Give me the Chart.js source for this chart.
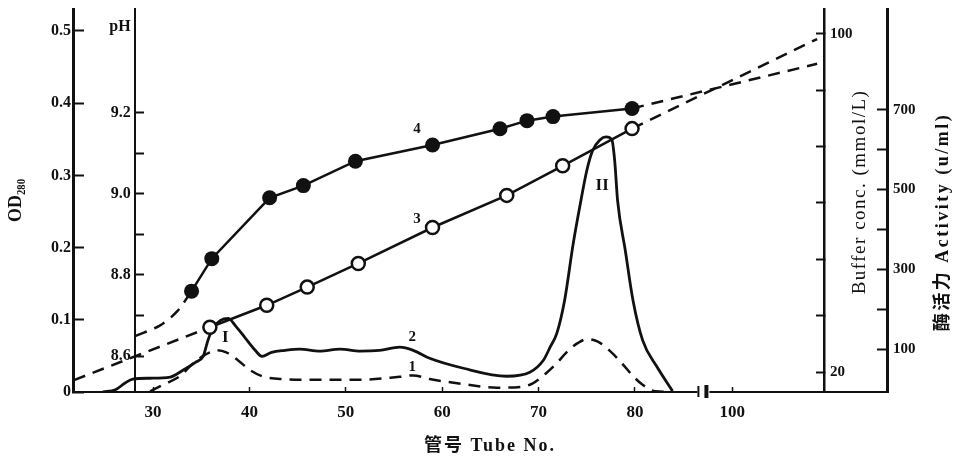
<!DOCTYPE html>
<html>
<head>
<meta charset="utf-8">
<script src="https://cdn.jsdelivr.net/npm/chart.js@4.4.1/dist/chart.umd.min.js"></script>
<style>
  html, body { margin: 0; padding: 0; background: #fff; }
  .chart-box { width: 959px; height: 458px; position: relative; }
</style>
</head>
<body>
<div class="chart-box"><canvas id="elutionChart"></canvas></div>
<script>
/* ---------------------------------- Data ---------------------------------- */
// curve 4 : pH (filled circles)
const phTubes = [34, 36.1, 42.1, 45.6, 51, 59, 66, 68.8, 71.5, 79.7];
const phValues = [8.76, 8.84, 8.99, 9.02, 9.08, 9.12, 9.16, 9.18, 9.19, 9.21];
const phLeadTubes = [28.2, 30.7, 32.5, 34];
const phLeadValues = [8.65, 8.675, 8.71, 8.76];
const phTailTubes = [79.7, 137];
const phTailValues = [9.21, 9.32];

// curve 3 : buffer conc. (open circles)
const bufTubes = [35.9, 41.8, 46, 51.3, 59, 66.7, 72.5, 79.7];
const bufValues = [30.6, 35.8, 40.1, 45.7, 54.2, 61.8, 68.8, 77.6];
const bufLeadTubes = [21.8, 35.9];
const bufLeadValues = [18.1, 30.6];
const bufTailTubes = [79.7, 137];
const bufTailValues = [77.6, 98.8];

// curve 1 : OD280 (dashed)
const odTubes = [29.7, 31.2, 32.8, 34.1, 35.2, 35.9, 36.6, 37.6, 38.8, 40.1, 41.3, 43.2, 47.3, 51.5, 55.6, 57,
  58.7, 62.2, 65.7, 68.1, 69.4, 70.7, 71.9, 72.9, 74.1, 75, 76.1, 77.4, 78.7, 79.8, 80.8, 82.1, 83.9];
const odValues = [0.001, 0.011, 0.022, 0.039, 0.05, 0.055, 0.058, 0.055, 0.044, 0.03, 0.022, 0.018, 0.017, 0.017, 0.021, 0.023,
  0.018, 0.011, 0.006, 0.007, 0.012, 0.025, 0.04, 0.055, 0.068, 0.073, 0.07, 0.057, 0.039, 0.022, 0.01, 0.001, 0];

// curve 2 : activity (solid)
const actTubes = [24.8, 26.1, 27.1, 27.9, 29.7, 31.8, 33.1, 34.4, 35.2, 35.7, 36.2, 37, 37.8, 38.6, 39.5, 40.6, 41.3,
  42.3, 43.7, 45.2, 47.3, 49.4, 51.5, 53.5, 55.6, 57, 58.7, 62.2, 66.7, 69.1, 70.5, 71.2, 71.9, 72.7, 73.6, 74.3,
  75, 75.6, 76.4, 77, 77.6, 77.9, 78.2, 79, 79.8, 80.8, 82.3, 83.9];
const actValues = [-7, -2, 15, 25, 27, 30, 47, 67, 82, 122, 152, 172, 177, 157, 130, 97, 82,
  92, 97, 100, 95, 100, 95, 97, 105, 97, 77, 52, 32, 42, 72, 105, 140, 222, 365, 460,
  547, 597, 625, 632, 625, 572, 472, 347, 222, 122, 55, -5];

// axis ticks
const xTicks = [30, 40, 50, 60, 70, 80, 100];
const odTicks = [0, 0.1, 0.2, 0.3, 0.4, 0.5];
const phTicks = [8.6, 8.7, 8.8, 8.9, 9.0, 9.1, 9.2];
const bufTicks = [20, 33.33, 46.67, 60, 73.33, 86.67, 100];
const actTicks = [100, 200, 300, 400, 500, 600, 700];

// curve labels
const labelTexts = ["4", "3", "2", "1", "I", "II"];
const labelTubes = [57.4, 57.4, 56.9, 56.9, 37.5, 76.6];
const labelValues = [9.16, 56.3, 130, 0.035, 0.075, 510];
const labelAxes = ["yPH", "yBuf", "yAct", "yOD", "yOD", "yAct"];

/* ------------------------------ Axis break ------------------------------- */
const xBreak = 87;
const xBreakScale = 0.238;

const toAxis = (t) => (t <= xBreak ? t : xBreak + (t - xBreak) * xBreakScale);
const fromAxis = (v) => (v <= xBreak ? v : xBreak + (v - xBreak) / xBreakScale);

const pts = (xs, ys) => xs.map((t, i) => ({ x: toAxis(t), y: ys[i] }));

/* -------------------------------- Styling --------------------------------- */
const ink = "#111";
const serif = "'Liberation Serif', 'Noto Sans CJK SC', serif";
const tickFont = { family: serif, size: 16, weight: "bold" };
const dash = [12, 8];

// fixed box sizes, and no extra padding so the plot area lands where the scan has it
const fitBox = (w, h) => (scale) => {
  if (w !== null) scale.width = w;
  if (h !== null) scale.height = h;
  scale.paddingTop = 0;
  scale.paddingBottom = 0;
  scale.paddingLeft = 0;
  scale.paddingRight = 0;
};
const setTicks = (list) => (scale) => { scale.ticks = list.map((v) => ({ value: v })); };

const lineSet = (data, axis, extra) =>
  Object.assign(
    {
      data: data,
      yAxisID: axis,
      borderColor: ink,
      borderWidth: 2.5,
      pointRadius: 0,
      fill: false,
      tension: 0,
    },
    extra
  );

/* ------------------------------ Annotations ------------------------------ */
const annotate = {
  id: "annotate",
  afterDraw(chart) {
    const { ctx, chartArea, scales } = chart;
    ctx.save();
    ctx.fillStyle = ink;
    ctx.strokeStyle = ink;

    // base line running under the two right-hand axes
    ctx.lineWidth = 2;
    ctx.beginPath();
    ctx.moveTo(chartArea.right, chartArea.bottom);
    ctx.lineTo(scales.yAct.left, chartArea.bottom);
    ctx.stroke();

    // axis break mark
    const bx = scales.x.getPixelForValue(xBreak);
    ctx.fillStyle = "#fff";
    ctx.fillRect(bx - 5, chartArea.bottom - 3, 12, 6);
    ctx.fillStyle = ink;
    ctx.fillRect(bx - 5, chartArea.bottom - 6, 2, 11);
    ctx.fillRect(bx + 2, chartArea.bottom - 7, 4, 13);

    // curve labels
    ctx.textAlign = "center";
    ctx.textBaseline = "middle";
    labelTexts.forEach((txt, i) => {
      const px = scales.x.getPixelForValue(toAxis(labelTubes[i]));
      const py = scales[labelAxes[i]].getPixelForValue(labelValues[i]);
      ctx.font = `bold ${txt.startsWith("I") ? 17 : 15}px ${serif}`;
      ctx.fillText(txt, px, py);
    });

    // axis titles
    ctx.letterSpacing = "2px";
    ctx.font = `bold 18px ${serif}`;
    ctx.fillText("管号 Tube No.", 490, 446);

    const vertical = (txt, x, y, font, spacing) => {
      ctx.save();
      ctx.translate(x, y);
      ctx.rotate(-Math.PI / 2);
      ctx.font = font;
      ctx.letterSpacing = spacing;
      ctx.fillText(txt, 0, 0);
      ctx.restore();
    };
    vertical("Buffer conc. (mmol/L)", 860, 192, `19px ${serif}`, "1.5px");
    vertical("酶活力 Activity (u/ml)", 943, 222, `bold 18px ${serif}`, "2.5px");

    ctx.restore();
  },
};

/* --------------------------------- Chart ---------------------------------- */
const ctx = document.getElementById("elutionChart").getContext("2d");

const elutionChart = new Chart(ctx, {
  type: "line",
  data: {
    datasets: [
      lineSet(pts(bufTubes, bufValues), "yBuf", {
        order: 0,
        pointRadius: 6.5,
        pointBorderWidth: 2.5,
        pointBackgroundColor: "#fff",
        pointBorderColor: ink,
      }),
      lineSet(pts(phTubes, phValues), "yPH", {
        order: 1,
        pointRadius: 7.5,
        pointBorderWidth: 0,
        pointBackgroundColor: ink,
      }),
      lineSet(pts(phLeadTubes, phLeadValues), "yPH", { order: 2, borderDash: dash, tension: 0.3 }),
      lineSet(pts(phTailTubes, phTailValues), "yPH", { order: 2, borderDash: dash }),
      lineSet(pts(bufLeadTubes, bufLeadValues), "yBuf", { order: 2, borderDash: dash }),
      lineSet(pts(bufTailTubes, bufTailValues), "yBuf", { order: 2, borderDash: dash }),
      lineSet(pts(odTubes, odValues), "yOD", { order: 3, borderDash: dash, cubicInterpolationMode: "monotone" }),
      lineSet(pts(actTubes, actValues), "yAct", { order: 3, borderWidth: 2.8, cubicInterpolationMode: "monotone" }),
    ],
  },
  options: {
    responsive: true,
    maintainAspectRatio: false,
    animation: false,
    layout: { padding: { top: 8, left: 0, right: 0, bottom: 0 } },
    plugins: { legend: { display: false }, tooltip: { enabled: false } },
    scales: {
      x: {
        type: "linear",
        position: "bottom",
        min: 21.7,
        max: toAxis(140),
        afterBuildTicks: (scale) => { scale.ticks = xTicks.map((t) => ({ value: toAxis(t) })); },
        afterFit: fitBox(null, 66),
        border: { display: true, color: ink, width: 2 },
        grid: { drawOnChartArea: false, drawTicks: true, tickLength: -5, tickWidth: 1.5, tickColor: ink },
        ticks: {
          color: ink,
          font: { family: serif, size: 17, weight: "bold" },
          padding: 15,
          maxRotation: 0,
          autoSkip: false,
          callback: (v) => String(Math.round(fromAxis(v))),
        },
      },
      yOD: {
        type: "linear",
        position: "left",
        min: 0,
        max: 0.5304,
        afterBuildTicks: setTicks(odTicks),
        afterFit: fitBox(73, null),
        border: { display: true, color: ink, width: 3 },
        grid: { drawOnChartArea: false, tickLength: -11, tickWidth: 2, tickColor: ink },
        ticks: {
          color: ink,
          font: tickFont,
          padding: 13,
          callback: (v) => (v === 0 ? "0" : v.toFixed(1)),
        },
        title: {
          display: true,
          text: "OD₂₈₀",
          color: ink,
          font: { family: serif, size: 18, weight: "bold" },
          padding: { top: 6, bottom: 0 },
        },
      },
      yPH: {
        type: "linear",
        position: { x: 28.1 },
        min: 8.5116,
        max: 9.455,
        afterBuildTicks: (scale) => { scale.ticks = phTicks.concat([9.41]).map((v) => ({ value: v })); },
        afterFit: fitBox(null, null),
        border: { display: true, color: ink, width: 2 },
        grid: {
          drawOnChartArea: false,
          tickLength: -10,
          tickWidth: 2,
          tickColor: (c) => (c.tick && c.tick.value > 9.3 ? "rgba(0,0,0,0)" : ink),
        },
        ticks: {
          color: ink,
          font: tickFont,
          // labels of an axis placed inside the plot sit flush on the line; a trailing space keeps a gap
          callback: (v) => {
            if (v > 9.3) return "pH ";
            return Math.round(v * 10) % 2 === 0 ? v.toFixed(1) + " " : "";
          },
        },
      },
      yBuf: {
        type: "linear",
        position: "right",
        weight: 0,
        min: 15.28,
        max: 105.9,
        afterBuildTicks: setTicks(bufTicks),
        afterFit: fitBox(63, null),
        border: { display: true, color: ink, width: 2.5 },
        grid: { drawOnChartArea: false, tickLength: -8, tickWidth: 2, tickColor: ink },
        ticks: {
          color: ink,
          font: { family: serif, size: 15, weight: "bold" },
          padding: 14,
          callback: (v) => (v === 20 || v === 100 ? String(v) : ""),
        },
      },
      yAct: {
        type: "linear",
        position: "right",
        weight: 1,
        min: -7.5,
        max: 952.5,
        afterBuildTicks: setTicks(actTicks),
        afterFit: fitBox(72, null),
        border: { display: true, color: ink, width: 3 },
        grid: { drawOnChartArea: false, tickLength: -10, tickWidth: 2, tickColor: ink },
        ticks: {
          color: ink,
          font: { family: serif, size: 15, weight: "bold" },
          padding: 16,
          callback: (v) => (v % 200 === 100 ? String(v) : ""),
        },
      },
    },
  },
  plugins: [annotate],
});
</script>
</body>
</html>
